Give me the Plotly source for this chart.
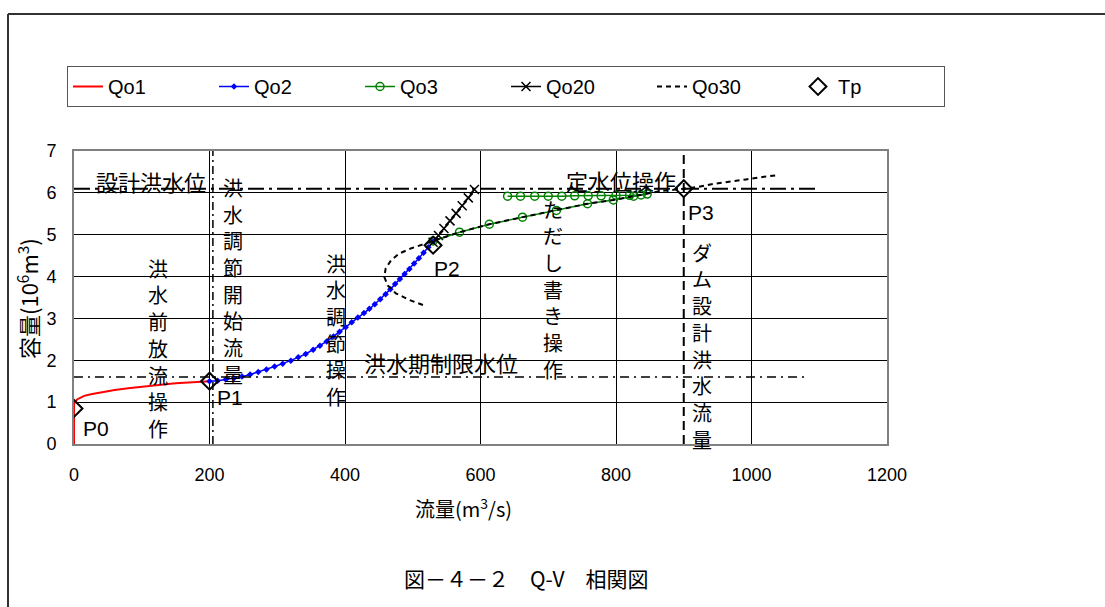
import plotly.graph_objects as go

# ---------------- data ----------------
qo1_x = [0, 0, 2, 5, 10, 15, 25, 40, 60, 80, 100, 125, 150, 175, 200]
qo1_y = [0, 0.95, 1.02, 1.07, 1.11, 1.15, 1.19, 1.24, 1.29, 1.33, 1.37, 1.41, 1.45, 1.48, 1.50]

qo2_x = [200, 212, 224, 236, 248, 260, 272, 284, 296, 308, 320, 331, 342, 353, 363, 373,
         383, 392, 401, 410, 419, 428, 436, 444, 452, 460, 467, 474, 481, 488, 495, 502,
         509, 516, 523, 530]
qo2_y = [1.50, 1.51, 1.54, 1.57, 1.61, 1.66, 1.72, 1.78, 1.85, 1.92, 1.99, 2.07, 2.15, 2.25,
         2.35, 2.45, 2.57, 2.68, 2.79, 2.91, 3.02, 3.13, 3.23, 3.34, 3.46, 3.58, 3.70, 3.82,
         3.94, 4.06, 4.18, 4.31, 4.44, 4.57, 4.70, 4.83]

qo3_x = [530, 569, 613, 662, 712, 758, 796, 826, 846,
         837, 820, 800, 778, 759, 739, 720, 700, 680, 659, 640]
qo3_y = [4.85, 5.06, 5.25, 5.42, 5.58, 5.74, 5.83, 5.92, 5.97,
         5.95, 5.94, 5.94, 5.93, 5.93, 5.93, 5.92, 5.92, 5.92, 5.92, 5.92]

qo20_x = [530, 538, 546, 555, 564, 573, 582, 591]
qo20_y = [4.82, 4.98, 5.15, 5.33, 5.51, 5.69, 5.88, 6.08]

qo30_x = [515, 495, 475, 463, 458, 460, 468, 480, 497, 517, 530, 569, 613, 662, 712, 758,
          796, 826, 848, 865, 900, 921, 946, 968, 992, 1012, 1037]
qo30_y = [3.32, 3.44, 3.60, 3.79, 3.99, 4.19, 4.39, 4.55, 4.67, 4.79, 4.85, 5.06, 5.25, 5.42,
          5.58, 5.74, 5.83, 5.92, 5.98, 6.04, 6.10, 6.14, 6.22, 6.26, 6.32, 6.37, 6.42]

tp_x = [0, 200, 530, 900]
tp_y = [0.85, 1.50, 4.75, 6.10]

# reference levels / flows
design_level = 6.1          # 設計洪水位
design_level_xmax = 1100
limit_level = 1.6           # 洪水期制限水位
limit_level_xmax = 1080
start_flow = 205            # 洪水調節開始流量
design_flow = 900           # ダム設計洪水流量

# labels: (text, x, y)
horiz_labels = [("設計洪水位", 114, 6.28), ("定水位操作", 808, 6.30), ("洪水期制限水位", 542, 1.96)]
vert_labels = [("洪水調節開始流量", 235, 6.13), ("洪水前放流操作", 124, 4.20),
               ("洪水調節操作", 386, 4.32), ("ただし書き操作", 707, 5.61),
               ("ダム設計洪水流量", 927, 4.58)]
point_labels = [("P0", 33, 0.36), ("P1", 230, 1.10), ("P2", 551, 4.20), ("P3", 925, 5.54)]

JP = "Noto Sans CJK JP"
LAT = "Liberation Sans"

fig = go.Figure()
fig.add_trace(go.Scatter(x=qo1_x, y=qo1_y, mode="lines", name="Qo1",
                         line=dict(color="#ff0000", width=2)))
fig.add_trace(go.Scatter(x=qo2_x, y=qo2_y, mode="lines+markers", name="Qo2",
                         line=dict(color="#0000ff", width=1.5),
                         marker=dict(symbol="diamond", size=5, color="#0000ff")))
fig.add_trace(go.Scatter(x=qo3_x, y=qo3_y, mode="lines+markers", name="Qo3",
                         line=dict(color="#008000", width=1.5),
                         marker=dict(symbol="circle-open", size=8, color="#008000",
                                     line=dict(width=1.5, color="#008000"))))
fig.add_trace(go.Scatter(x=qo20_x, y=qo20_y, mode="lines+markers", name="Qo20",
                         line=dict(color="#000000", width=1.5),
                         marker=dict(symbol="x-thin-open", size=9, color="#000000",
                                     line=dict(width=1.5, color="#000000"))))
fig.add_trace(go.Scatter(x=qo30_x, y=qo30_y, mode="lines", name="Qo30",
                         line=dict(color="#000000", width=2, dash="5px,4px")))
fig.add_trace(go.Scatter(x=tp_x, y=tp_y, mode="markers", name="Tp",
                         marker=dict(symbol="diamond-open", size=13, color="#000000",
                                     line=dict(width=2, color="#000000"))))

# reference lines
fig.add_shape(type="line", xref="x", yref="y", x0=0, x1=design_level_xmax,
              y0=design_level, y1=design_level,
              line=dict(color="#000000", width=2, dash="16px,5px,3px,5px"))
fig.add_shape(type="line", xref="x", yref="y", x0=0, x1=limit_level_xmax,
              y0=limit_level, y1=limit_level,
              line=dict(color="#000000", width=1.5, dash="9px,5px,2px,5px"))
fig.add_shape(type="line", xref="x", yref="paper", x0=start_flow, x1=start_flow, y0=0, y1=1,
              line=dict(color="#000000", width=1.5, dash="8px,4px,2px,4px"))
fig.add_shape(type="line", xref="x", yref="paper", x0=design_flow, x1=design_flow, y0=0, y1=1,
              line=dict(color="#000000", width=2, dash="9px,5px"))

# outer frame (top and left edges)
PL, PR, PT, PB = 74, 887, 151, 444
W, H = 1105, 607
def px2paper_x(px):
    return (px - PL) / (PR - PL)
def px2paper_y(py):
    return (PB - py) / (PB - PT)

fig.add_shape(type="line", xref="paper", yref="paper", x0=px2paper_x(8), x1=px2paper_x(1110),
              y0=px2paper_y(14), y1=px2paper_y(14), line=dict(color="#333333", width=2))
fig.add_shape(type="line", xref="paper", yref="paper", x0=px2paper_x(8), x1=px2paper_x(8),
              y0=px2paper_y(14), y1=px2paper_y(615), line=dict(color="#333333", width=2))

for txt, x, y in horiz_labels:
    fig.add_annotation(x=x, y=y, text=txt, showarrow=False, xanchor="center", yanchor="middle",
                       font=dict(family=JP, size=22, color="#000000"))
for txt, x, y in vert_labels:
    for i, ch in enumerate(txt):
        fig.add_annotation(x=x, y=y, text=ch, showarrow=False, xanchor="center", yanchor="middle",
                           yshift=-i * 26.7, font=dict(family=JP, size=20, color="#000000"))
for txt, x, y in point_labels:
    fig.add_annotation(x=x, y=y, text=txt, showarrow=False, xanchor="center", yanchor="middle",
                       font=dict(family=LAT, size=21, color="#000000"))

# axis titles and figure caption
fig.add_annotation(xref="paper", yref="paper", x=px2paper_x(27), y=px2paper_y(299),
                   text="容量(10<sup>6</sup>m<sup>3</sup>)", textangle=-90, showarrow=False,
                   xanchor="center", yanchor="middle", font=dict(family=JP, size=22, color="#000000"))
fig.add_annotation(xref="paper", yref="paper", x=px2paper_x(463), y=px2paper_y(508),
                   text="流量(m<sup>3</sup>/s)", showarrow=False,
                   xanchor="center", yanchor="middle", font=dict(family=JP, size=20, color="#000000"))
fig.add_annotation(xref="paper", yref="paper", x=px2paper_x(526), y=px2paper_y(578),
                   text="図－４－２　Q-V　相関図", showarrow=False,
                   xanchor="center", yanchor="middle", font=dict(family=JP, size=21, color="#000000"))

axis_common = dict(showgrid=True, gridcolor="#000000", gridwidth=1, showline=True,
                   linecolor="#808080", linewidth=2, mirror=True, zeroline=False, ticks="",
                   tickfont=dict(family=LAT, size=18, color="#000000"), fixedrange=True)
fig.update_xaxes(range=[0, 1200], dtick=200, tick0=0, ticklabelstandoff=13, **axis_common)
fig.update_yaxes(range=[0, 7], dtick=1, tick0=0, ticklabelstandoff=12, **axis_common)

fig.update_layout(
    width=W, height=H,
    margin=dict(l=PL, r=W - PR, t=PT, b=H - PB, pad=0),
    paper_bgcolor="#ffffff", plot_bgcolor="#ffffff",
    showlegend=True,
    legend=dict(orientation="h", x=px2paper_x(67), y=px2paper_y(66), xanchor="left", yanchor="top",
                bordercolor="#555555", borderwidth=1, bgcolor="#ffffff",
                entrywidth=101, entrywidthmode="pixels",
                font=dict(family=LAT, size=20, color="#000000"), itemwidth=30,
                tracegroupgap=0),
)

fig.write_html("out.html")
